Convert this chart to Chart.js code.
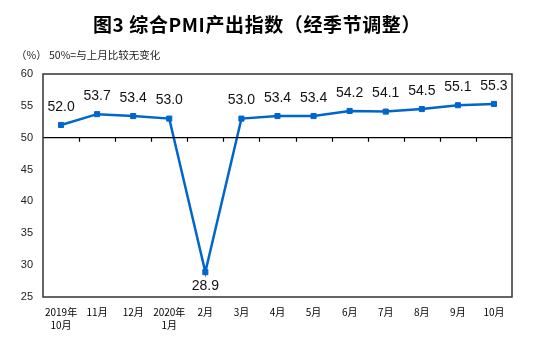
<!DOCTYPE html>
<html>
<head>
<meta charset="utf-8">
<script src="https://cdn.jsdelivr.net/npm/chart.js@4/dist/chart.umd.min.js"></script>
<style>
  html, body { margin: 0; padding: 0; background: #fff; }
  #wrap { position: relative; width: 554px; height: 345px; }
  #title {
    position: absolute; left: 0; top: 11px; width: 514px; text-align: center;
    font-family: "Noto Sans CJK SC", sans-serif; font-weight: bold; font-size: 19px;
    letter-spacing: 0.6px; line-height: 26px; color: #000; white-space: nowrap;
  }
  #unit {
    position: absolute; left: 16px; top: 47px;
    font-family: "Noto Sans CJK SC", sans-serif; font-size: 10.5px; line-height: 16px;
    color: #222; white-space: nowrap;
  }
  canvas { position: absolute; left: 0; top: 0; }
</style>
</head>
<body>
<div id="wrap">
  <canvas id="c" width="554" height="345"></canvas>
  <div id="title">图3&nbsp;综合PMI产出指数（经季节调整）</div>
  <div id="unit">（%）&nbsp;50%=与上月比较无变化</div>
</div>
<script>
// Monthly categories (multi-line labels)
const months = [
  ['2019年', '10月'], '11月', '12月', ['2020年', '1月'], '2月', '3月', '4月',
  '5月', '6月', '7月', '8月', '9月', '10月'
];
// Composite PMI output index, seasonally adjusted
const pmiValues = [52.0, 53.7, 53.4, 53.0, 28.9, 53.0, 53.4, 53.4, 54.2, 54.1, 54.5, 55.1, 55.3];
// Y axis range
const yMin = 25;
const yMax = 60;
const yStep = 5;
const neutralLine = 50;

const lineBlue = 'rgb(0,102,204)';

// Frame around the plot plus the 50% line with category ticks
const framePlugin = {
  id: 'frame',
  afterDraw(chart) {
    const { ctx, chartArea: a, scales } = chart;
    const x = scales.x, y = scales.y;
    ctx.save();
    // 50 line
    const y50 = y.getPixelForValue(neutralLine);
    ctx.strokeStyle = '#000';
    ctx.lineWidth = 1.2;
    ctx.beginPath();
    ctx.moveTo(a.left, y50);
    ctx.lineTo(a.right, y50);
    for (let i = 0; i < months.length - 1; i++) {
      const bx = Math.round((x.getPixelForValue(i) + x.getPixelForValue(i + 1)) / 2) + 0.5;
      ctx.moveTo(bx, y50);
      ctx.lineTo(bx, y50 + 4);
    }
    ctx.stroke();
    // frame
    ctx.strokeStyle = '#333';
    ctx.lineWidth = 1.5;
    ctx.strokeRect(a.left, a.top, a.right - a.left, a.bottom - a.top);
    ctx.restore();
  }
};

// Value labels above points (below the trough)
const labelPlugin = {
  id: 'valueLabels',
  afterDatasetsDraw(chart) {
    const { ctx } = chart;
    const meta = chart.getDatasetMeta(0);
    ctx.save();
    ctx.font = '14px "Liberation Sans", Arial, sans-serif';
    ctx.fillStyle = '#111';
    ctx.textAlign = 'center';
    ctx.textBaseline = 'middle';
    meta.data.forEach((pt, i) => {
      const v = pmiValues[i];
      const prev = i > 0 ? pmiValues[i - 1] : v;
      const next = i < pmiValues.length - 1 ? pmiValues[i + 1] : v;
      const isTrough = v < prev && v < next && v < neutralLine;
      const ty = isTrough ? pt.y + 14 : pt.y - 18;
      ctx.fillText(v.toFixed(1), pt.x, ty);
    });
    ctx.restore();
  }
};

new Chart(document.getElementById('c'), {
  type: 'line',
  data: {
    labels: months,
    datasets: [{
      data: pmiValues,
      borderColor: lineBlue,
      backgroundColor: lineBlue,
      borderWidth: 2.5,
      pointStyle: 'rect',
      pointRadius: 3.6,
      pointBorderWidth: 1,
      pointBackgroundColor: lineBlue,
      pointBorderColor: lineBlue,
      tension: 0,
      clip: false
    }]
  },
  options: {
    responsive: false,
    animation: false,
    events: [],
    layout: { padding: { left: 0, top: 74, right: 42, bottom: 0 } },
    plugins: {
      legend: { display: false },
      title: { display: false },
      tooltip: { enabled: false }
    },
    scales: {
      x: {
        offset: true,
        grid: { display: false, drawTicks: false },
        border: { display: false },
        ticks: {
          autoSkip: false,
          maxRotation: 0,
          padding: 9,
          color: '#000',
          font: { family: '"Noto Sans CJK SC", sans-serif', size: 10, lineHeight: 1.3 }
        },
        afterFit(s) { s.height = 48; }
      },
      y: {
        min: yMin,
        max: yMax,
        grid: { display: false, drawTicks: false },
        border: { display: false },
        ticks: {
          stepSize: yStep,
          padding: 10,
          color: '#222',
          font: { family: '"Liberation Sans", Arial, sans-serif', size: 11 }
        },
        afterFit(s) { s.width = 43; }
      }
    }
  },
  plugins: [framePlugin, labelPlugin]
});
</script>
</body>
</html>
